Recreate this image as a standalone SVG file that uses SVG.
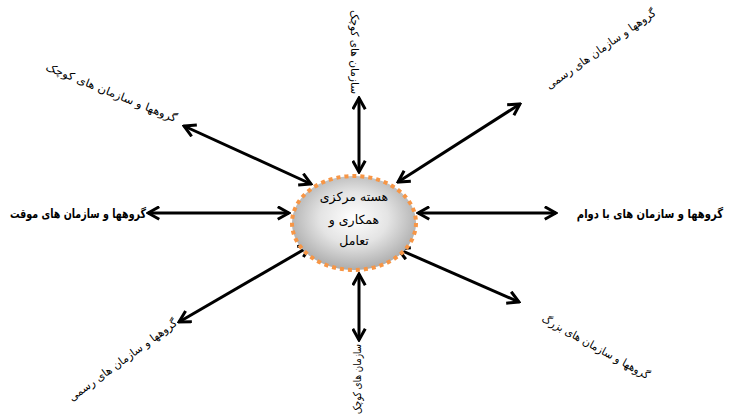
<svg xmlns="http://www.w3.org/2000/svg" width="731" height="417" viewBox="0 0 731 417">
<style>
.lbl{font-family:"DejaVu Sans","Noto Sans",sans-serif;font-size:11px;fill:#000}
.bold{font-family:"DejaVu Sans","Noto Sans",sans-serif;font-size:12.5px;font-weight:bold;fill:#000}
.ctr{font-family:"DejaVu Sans","Noto Sans",sans-serif;font-size:12.5px;fill:#000;text-anchor:middle}
.conn{stroke:#000;stroke-width:3;fill:none;marker-start:url(#ah);marker-end:url(#ah)}
</style>
<defs>
<marker id="ah" viewBox="0 0 12 12" refX="10.5" refY="6" markerWidth="15" markerHeight="15" markerUnits="userSpaceOnUse" orient="auto-start-reverse">
<path d="M1.5,1 L10.5,6 L1.5,11" fill="none" stroke="#000" stroke-width="2.4" stroke-linejoin="miter"/>
</marker>
<radialGradient id="g" cx="50%" cy="45%" r="55%">
<stop offset="0" stop-color="#ffffff"/>
<stop offset="0.5" stop-color="#e4e4e4"/>
<stop offset="1" stop-color="#acacac"/>
</radialGradient>
</defs>
<g id="connectors">
<line class="conn" x1="359" y1="98" x2="359" y2="172"/>
<line class="conn" x1="359" y1="274" x2="359" y2="340"/>
<line class="conn" x1="148" y1="213" x2="289" y2="213"/>
<line class="conn" x1="418" y1="213" x2="556" y2="213"/>
<line class="conn" x1="184" y1="126" x2="311" y2="184"/>
<line class="conn" x1="520" y1="104" x2="398" y2="182"/>
<line class="conn" x1="179" y1="322" x2="310" y2="246"/>
<line class="conn" x1="519" y1="302" x2="398" y2="249"/>
</g>
<g id="core">
<ellipse cx="354" cy="223" rx="62" ry="47" fill="url(#g)" stroke="#f79646" stroke-width="4" stroke-dasharray="4 4"/>
<text class="ctr" x="354" y="201">هسته مرکزی</text>
<text class="ctr" x="354" y="224">همکاری و</text>
<text class="ctr" x="354" y="245">تعامل</text>
</g>
<g id="n-top">
<text class="lbl" text-anchor="middle" textLength="84" lengthAdjust="spacingAndGlyphs" transform="translate(351,52) rotate(90)">سازمان های کوچک</text>
</g>
<g id="n-bottom">
<text class="lbl" text-anchor="middle" textLength="70" lengthAdjust="spacingAndGlyphs" transform="translate(361,379) rotate(-90)">سازمان های کوچک</text>
</g>
<g id="n-left">
<text class="bold" x="10" y="218" textLength="136" lengthAdjust="spacingAndGlyphs">گروهها و سازمان های موقت</text>
</g>
<g id="n-right">
<text class="bold" text-anchor="end" x="0" y="0" transform="translate(723,218) scale(0.8,1)">گروهها و سازمان های با دوام</text>
</g>
<g id="n-topright">
<text class="lbl" text-anchor="middle" textLength="131" lengthAdjust="spacingAndGlyphs" transform="translate(603,52) rotate(-35)">گروهها و سازمان های رسمی</text>
</g>
<g id="n-topleft">
<text class="lbl" text-anchor="middle" textLength="140" lengthAdjust="spacingAndGlyphs" transform="translate(110,96) rotate(22)">گروهها و سازمان های کوچک</text>
</g>
<g id="n-bottomright">
<text class="lbl" text-anchor="middle" textLength="121" lengthAdjust="spacingAndGlyphs" transform="translate(594,350) rotate(29)">گروهها و سازمان های بزرگ</text>
</g>
<g id="n-bottomleft">
<text class="lbl" text-anchor="middle" textLength="131" lengthAdjust="spacingAndGlyphs" transform="translate(125,363) rotate(-36)">گروهها و سازمان های رسمی</text>
</g>
</svg>
